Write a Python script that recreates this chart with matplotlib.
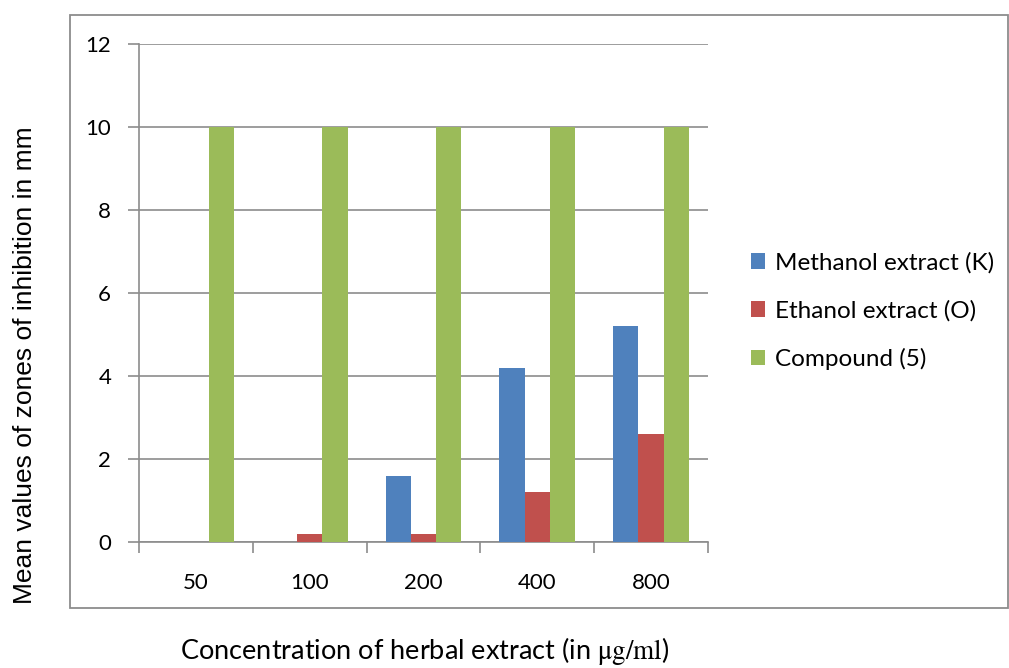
import matplotlib
matplotlib.use("Agg")
import matplotlib.pyplot as plt
import numpy as np
from matplotlib.patches import Rectangle

categories = ["50", "100", "200", "400", "800"]
methanol = [0, 0, 1.6, 4.2, 5.2]
ethanol = [0, 0.2, 0.2, 1.2, 2.6]
compound = [10, 10, 10, 10, 10]
series_names = ["Methanol extract (K)", "Ethanol extract (O)", "Compound (5)"]
colors = ["#4F81BD", "#C0504D", "#9BBB59"]

plt.rcParams['mathtext.fontset'] = 'stix'
W, H = 1009, 668
fig = plt.figure(figsize=(W / 100, H / 100), dpi=100)

# outer chart frame
fig.patches.append(Rectangle((70 / W, 1 - 608 / H), 938 / W, 593 / H, transform=fig.transFigure,
                             fill=False, edgecolor="#8C8C8C", linewidth=1.3))

ax = fig.add_axes([139 / W, 1 - 542 / H, (708 - 139) / W, (542 - 44) / H])
x = np.arange(len(categories))
bw = 1 / 4.5
for i, (vals, name, c) in enumerate(zip([methanol, ethanol, compound], series_names, colors)):
    ax.bar(x + (i - 1) * bw, vals, width=bw, color=c, label=name, zorder=3)

ax.set_xlim(-0.5, len(categories) - 0.5)
ax.set_ylim(0, 12)
ax.set_yticks(np.arange(0, 13, 2))
ax.set_xticks(np.arange(-0.5, len(categories), 1))
ax.set_xticklabels([])
ax.set_xticks(x, minor=True)
ax.set_xticklabels(categories, minor=True, fontsize=16, family="Lato")
ax.tick_params(axis="x", which="minor", length=0, pad=22)
ax.tick_params(axis="x", which="major", length=8, color="#8C8C8C", width=1.2, direction="out")
ax.tick_params(axis="y", length=8, color="#8C8C8C", width=1.2, labelsize=16, pad=12)
for lab in ax.get_yticklabels():
    lab.set_family("Lato")
ax.grid(axis="y", color="#8C8C8C", linewidth=1.2, zorder=0)
for s in ["top", "right"]:
    ax.spines[s].set_visible(False)
for s in ["left", "bottom"]:
    ax.spines[s].set_color("#8C8C8C")
    ax.spines[s].set_linewidth(1.2)

leg = fig.legend(loc="center left", bbox_to_anchor=(729 / W, 1 - 311 / H), frameon=False,
                 prop={"family": "Lato", "size": 17.5}, handlelength=0.6, handleheight=0.6,
                 handletextpad=0.4, labelspacing=1.08)

fig.text(25 / W, 1 - 365 / H, "Mean values of zones of inhibition in mm", rotation=90,
         ha="center", va="center", fontsize=19, family="Liberation Sans")
fig.text(425 / W, 1 - 651 / H, r"Concentration of herbal extract (in $\mathrm{\mu g/ml}$)",
         ha="center", va="center", fontsize=19.5, family="Lato")

fig.savefig("out.png", dpi=100)
